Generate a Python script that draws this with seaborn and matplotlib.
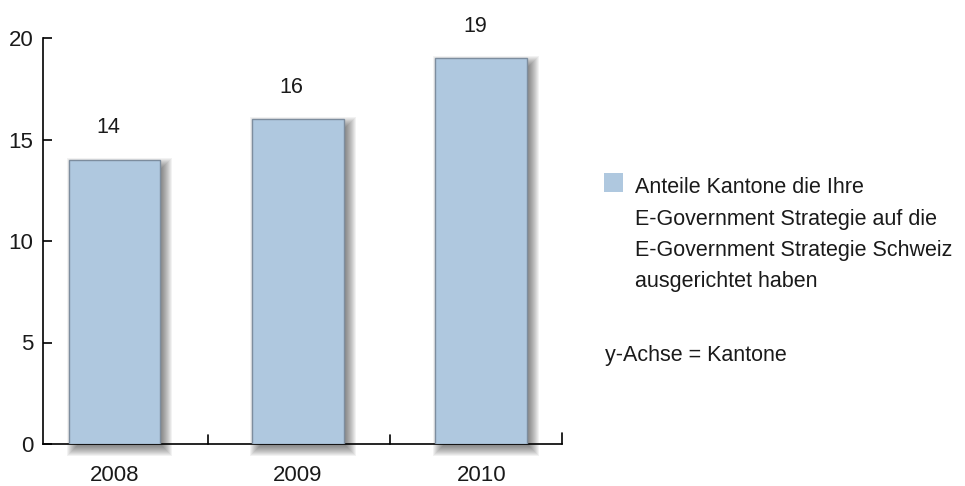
import matplotlib
matplotlib.use("Agg")
import matplotlib.pyplot as plt
from matplotlib.patches import Rectangle
import seaborn as sns
import pandas as pd

years = ["2008", "2009", "2010"]
kantone = [14, 16, 19]
series_label = ("Anteile Kantone die Ihre\nE-Government Strategie auf die\n"
                "E-Government Strategie Schweiz\nausgerichtet haben")
axis_note = "y-Achse = Kantone"

sns.set_style("white")
plt.rcParams["font.family"] = ["Liberation Sans", "DejaVu Sans"]

bar_color = "#afc8df"
edge_color = "#7d8d9e"
text_color = "#1a1a1a"

W, H = 965, 486
df = pd.DataFrame({"Jahr": years, "Kantone": kantone})

fig = plt.figure(figsize=(W / 100, H / 100), dpi=100)
ax = fig.add_axes([43 / W, 1 - 444 / H, (562 - 43) / W, (444 - 38) / H])

sns.barplot(data=df, x="Jahr", y="Kantone", color=bar_color, width=0.5,
            saturation=1, edgecolor=edge_color, linewidth=1.0, ax=ax)

ax.set_xlim(-0.39, 2.44)
ax.set_ylim(0, 20)

# pixel-to-data scale factors for the soft shadow
px_x = (2.44 + 0.39) / (562 - 43)
px_y = 20 / (444 - 38)

bars = list(ax.patches)
for p in bars:
    p.set_zorder(3)
    x0, w, h = p.get_x(), p.get_width(), p.get_height()
    off = 5
    for e in range(-7, 8):
        ax.add_patch(Rectangle((x0 + (off - e) * px_x, (-off - e) * px_y),
                               w + 2 * e * px_x, h + 2 * e * px_y,
                               facecolor="black", edgecolor="none", alpha=0.05,
                               zorder=2, clip_on=False))

for i, v in enumerate(kantone):
    ax.text(i - 0.035, v + 1.58, str(v), ha="center", va="center", fontsize=15.5,
            color=text_color)

ax.set_yticks([0, 5, 10, 15, 20])
ax.set_xlabel("")
ax.set_ylabel("")
ax.set_xticks([0, 1, 2])
ax.set_xticklabels(years)

for s in ["top", "right"]:
    ax.spines[s].set_visible(False)
for s in ["left", "bottom"]:
    ax.spines[s].set_color("black")
    ax.spines[s].set_linewidth(1.2)

ax.tick_params(axis="y", direction="in", length=6.5, width=1.2, color="black",
               labelsize=16, labelcolor=text_color, pad=7, left=True)
ax.tick_params(axis="x", length=0, labelsize=16, labelcolor=text_color, pad=15)

# separators between the year groups on the x axis
for xb, hgt in [(0.51, 0.44), (1.5, 0.44), (2.44, 0.55)]:
    ax.plot([xb, xb], [0, hgt], color="black", lw=1.2, clip_on=False, zorder=2.6)

# legend
fig.patches.append(Rectangle((604 / W, 1 - 192 / H), 19 / W, 19 / H,
                             transform=fig.transFigure, facecolor=bar_color,
                             edgecolor="none"))
for k, line in enumerate(series_label.split("\n")):
    fig.text(635 / W, 1 - (193 + 31.5 * k) / H, line, ha="left", va="baseline",
             fontsize=15.5, color=text_color)
fig.text(605 / W, 1 - 361 / H, axis_note, ha="left", va="baseline",
         fontsize=15.5, color=text_color)

fig.savefig("out.png", dpi=100)
